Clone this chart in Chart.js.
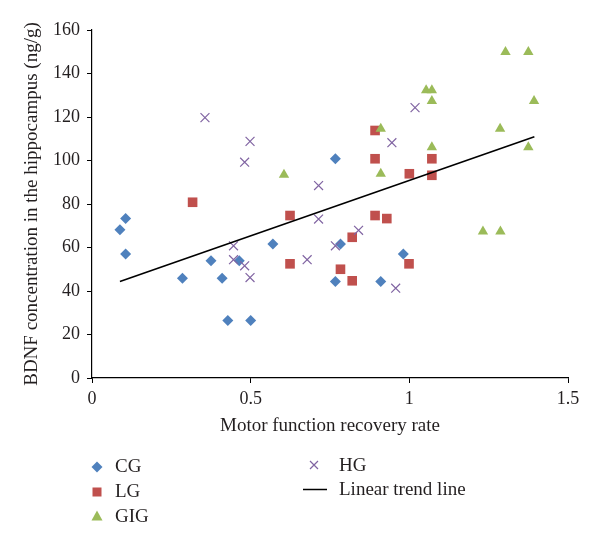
<!DOCTYPE html>
<html>
<head>
<meta charset="utf-8">
<script src="https://cdn.jsdelivr.net/npm/chart.js@4"></script>
<style>
  html, body { margin: 0; padding: 0; background: #fff; }
  #wrap { position: relative; width: 600px; height: 549px; }
  #c { position: absolute; left: 0; top: 0; }
  .lg { position: absolute; font-family: "Liberation Serif", "Times New Roman", serif; font-size: 19px; color: #231f20; line-height: 20px; white-space: nowrap; }
  .mk { position: absolute; }
</style>
</head>
<body>
<div id="wrap">
  <canvas id="c" width="600" height="549"></canvas>
  <svg class="mk" style="left:91px;top:461px" width="12" height="12"><polygon points="6,0.5 11.5,6 6,11.5 0.5,6" fill="#4F81BD"/></svg>
  <div class="lg" style="left:115px;top:456px">CG</div>
  <svg class="mk" style="left:92px;top:487px" width="10" height="10"><rect x="0.5" y="0.5" width="9" height="9" fill="#C0504D"/></svg>
  <div class="lg" style="left:115px;top:481px">LG</div>
  <svg class="mk" style="left:91px;top:510px" width="12" height="11"><polygon points="6,0.5 11.5,10.5 0.5,10.5" fill="#9BBB59"/></svg>
  <div class="lg" style="left:115px;top:506px">GIG</div>
  <svg class="mk" style="left:309px;top:460px" width="10" height="10"><path d="M1,1 L9,9 M9,1 L1,9" stroke="#8064A2" stroke-width="1.2"/></svg>
  <div class="lg" style="left:339px;top:455px">HG</div>
  <svg class="mk" style="left:303px;top:488px" width="24" height="3"><line x1="0" y1="1.5" x2="24" y2="1.5" stroke="#000" stroke-width="1.5"/></svg>
  <div class="lg" style="left:339px;top:479px">Linear trend line</div>
</div>
<script>
// ---- data ----
const cgX  = [0.088, 0.106, 0.106, 0.285, 0.375, 0.41, 0.428, 0.464, 0.5, 0.57, 0.767, 0.767, 0.783, 0.91, 0.981];
const cgY  = [68.2, 73.3, 57, 45.9, 53.9, 45.9, 26.4, 53.9, 26.4, 61.6, 100.8, 44.4, 61.6, 44.4, 57];
const lgX  = [0.317, 0.624, 0.624, 0.783, 0.82, 0.82, 0.892, 0.929, 0.892, 0.892, 1.0, 1.071, 1.071, 0.999];
const lgY  = [80.8, 74.7, 52.5, 50, 64.7, 44.7, 74.7, 73.3, 113.8, 100.8, 93.9, 100.8, 93.2, 52.5];
const gigX = [0.605, 1.303, 1.375, 1.053, 1.071, 1.071, 1.393, 0.91, 1.286, 1.071, 1.375, 0.91, 1.232, 1.287];
const gigY = [93.5, 149.9, 149.9, 132.3, 132.3, 127.3, 127.3, 114.6, 114.6, 106.1, 106.1, 93.9, 67.4, 67.4];
const hgX  = [0.356, 0.498, 0.481, 0.714, 1.018, 0.945, 0.446, 0.446, 0.481, 0.498, 0.678, 0.714, 0.767, 0.84, 0.957];
const hgY  = [119.7, 108.8, 99.2, 88.5, 124.3, 108.2, 60.8, 54.4, 51.6, 46.2, 54.4, 73.1, 60.8, 67.9, 41.3];
const trendX = [0.088, 1.394];
const trendY = [44.4, 110.9];
const xTicks = [0, 0.5, 1, 1.5];
const xTickLabels = ["0", "0.5", "1", "1.5"];
const yTicks = [0, 20, 40, 60, 80, 100, 120, 140, 160];
const xTitle = "Motor function recovery rate";
const yTitle = "BDNF concentration in the hippocampus (ng/g)";

const pts = (xs, ys) => xs.map((x, i) => ({x: x, y: ys[i]}));
const serif = "'Liberation Serif', 'Times New Roman', serif";

new Chart(document.getElementById('c'), {
  type: 'scatter',
  data: {
    datasets: [
      { label: 'CG', data: pts(cgX, cgY), pointStyle: 'rectRot', pointRadius: 5.5, backgroundColor: '#4F81BD', borderColor: '#4F81BD', borderWidth: 0, order: 5 },
      { label: 'LG', data: pts(lgX, lgY), pointStyle: 'rect', pointRadius: 6.8, backgroundColor: '#C0504D', borderColor: '#C0504D', borderWidth: 0, order: 4 },
      { label: 'GIG', data: pts(gigX, gigY), pointStyle: 'triangle', pointRadius: 6, backgroundColor: '#9BBB59', borderColor: '#9BBB59', borderWidth: 0, order: 3 },
      { label: 'HG', data: pts(hgX, hgY), pointStyle: 'crossRot', pointRadius: 6.3, backgroundColor: '#8064A2', borderColor: '#8064A2', borderWidth: 1.2, order: 2 },
      { label: 'Linear trend line', type: 'line', data: pts(trendX, trendY), showLine: true, pointRadius: 0, borderColor: '#000', borderWidth: 1.6, fill: false, order: 1 }
    ]
  },
  options: {
    responsive: false,
    animation: false,
    events: [],
    layout: { padding: { left: 0, right: 32, top: 30, bottom: 109 } },
    plugins: { legend: { display: false }, tooltip: { enabled: false } },
    scales: {
      x: {
        type: 'linear', min: 0, max: 1.5,
        afterBuildTicks: (s) => { s.ticks = xTicks.map(v => ({value: v})); },
        afterFit: (s) => { s.height = 62; },
        ticks: { color: '#231f20', font: { family: serif, size: 18 }, padding: 5, maxRotation: 0, autoSkip: false,
                 callback: (v) => { const i = xTicks.indexOf(v); return i >= 0 ? xTickLabels[i] : String(v); } },
        grid: { drawOnChartArea: false, drawTicks: true, tickLength: 5, color: '#000', tickColor: '#000' },
        border: { display: true, color: '#000', width: 1.2 },
        title: { display: true, text: xTitle, color: '#231f20', font: { family: serif, size: 19 }, padding: { top: 0, bottom: 3 } }
      },
      y: {
        type: 'linear', min: 0, max: 160,
        afterBuildTicks: (s) => { s.ticks = yTicks.map(v => ({value: v})); },
        afterFit: (s) => { s.width = 92; },
        ticks: { color: '#231f20', font: { family: serif, size: 18 }, padding: 7, autoSkip: false },
        grid: { drawOnChartArea: false, drawTicks: true, tickLength: 5, color: '#000', tickColor: '#000' },
        border: { display: true, color: '#000', width: 1.2 },
        title: { display: true, text: yTitle, color: '#231f20', font: { family: serif, size: 19 }, padding: { top: 21, bottom: 0 } }
      }
    }
  }
});
</script>
</body>
</html>
